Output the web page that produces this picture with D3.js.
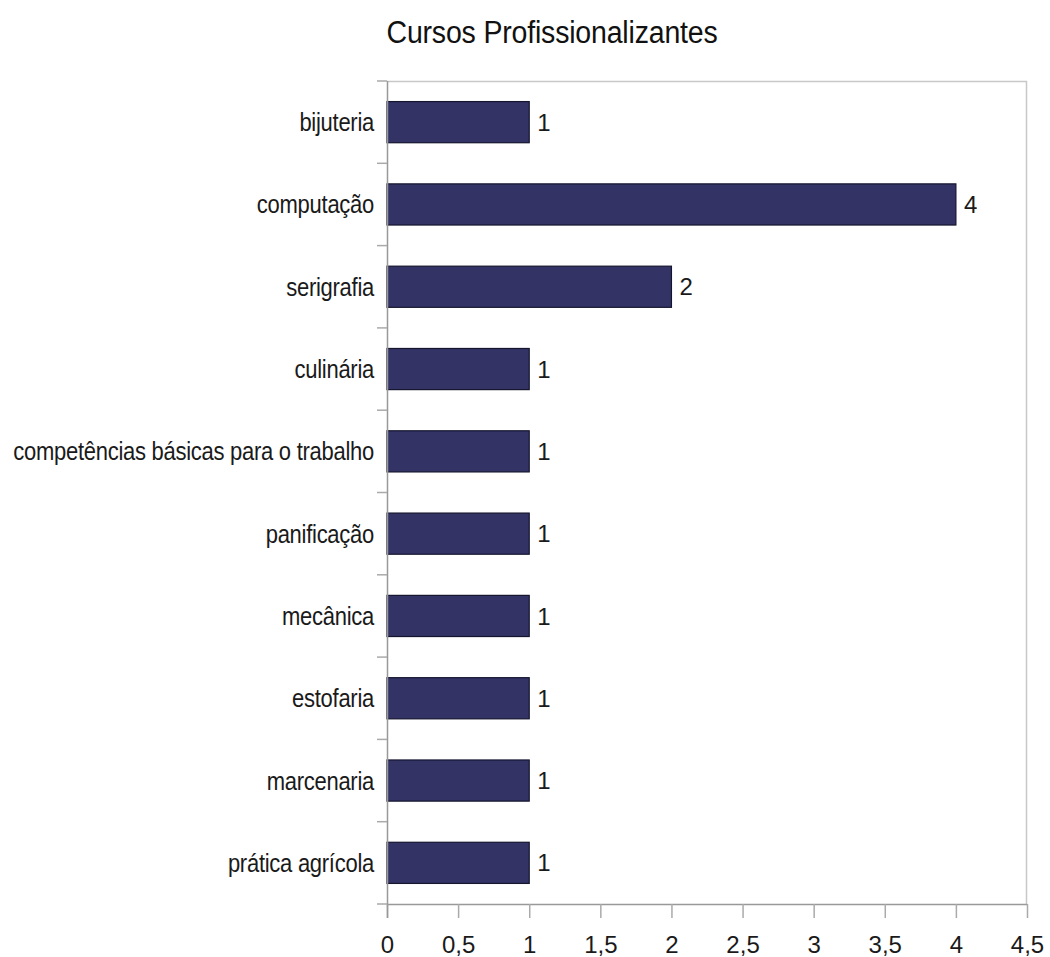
<!DOCTYPE html>
<html>
<head>
<meta charset="utf-8">
<script src="https://cdn.jsdelivr.net/npm/d3@7"></script>
<style>
  html, body { margin: 0; padding: 0; background: #fff; }
  svg { display: block; font-family: "Liberation Sans", Arial, sans-serif; }
</style>
</head>
<body>
<svg id="chart" width="1050" height="957"></svg>
<script>
const title = "Cursos Profissionalizantes";
const categories = [
  "bijuteria",
  "computação",
  "serigrafia",
  "culinária",
  "competências básicas para o trabalho",
  "panificação",
  "mecânica",
  "estofaria",
  "marcenaria",
  "prática agrícola"
];
const values = [1, 4, 2, 1, 1, 1, 1, 1, 1, 1];
const xTicks = [0, 0.5, 1, 1.5, 2, 2.5, 3, 3.5, 4, 4.5];

const svg = d3.select("#chart");
const margin = { left: 387, right: 23, top: 81, bottom: 53 };
const W = 1050, H = 957;
const innerW = W - margin.left - margin.right;
const innerH = H - margin.top - margin.bottom;

const x = d3.scaleLinear().domain([0, 4.5]).range([0, innerW]);
const y = d3.scaleBand().domain(categories).range([0, innerH]).paddingInner(0.5).paddingOuter(0.25);

const g = svg.append("g").attr("transform", `translate(${margin.left},${margin.top})`);

// plot frame: light top and right edges
g.append("path")
  .attr("d", `M0,0.5 H${innerW - 0.5} V${innerH}`)
  .attr("fill", "none")
  .attr("stroke", "#c8c8c8")
  .attr("stroke-width", 1.5);

// bars
g.selectAll("rect.bar")
  .data(values)
  .join("rect")
  .attr("class", "bar")
  .attr("x", 0)
  .attr("y", (d, i) => y(categories[i]))
  .attr("width", d => x(d))
  .attr("height", y.bandwidth())
  .attr("fill", "#333366")
  .attr("stroke", "#15152e")
  .attr("stroke-width", 1.2);

// value labels
g.selectAll("text.val")
  .data(values)
  .join("text")
  .attr("class", "val")
  .attr("x", d => x(d) + 8)
  .attr("y", (d, i) => y(categories[i]) + y.bandwidth() / 2)
  .attr("dy", "0.36em")
  .attr("font-size", 24)
  .attr("fill", "#1a1a1a")
  .text(d => d);

// bottom axis
const xAxis = d3.axisBottom(x)
  .tickValues(xTicks)
  .tickSize(14)
  .tickPadding(18)
  .tickFormat(d => String(d).replace(".", ","));
const xg = g.append("g").attr("transform", `translate(0,${innerH})`).call(xAxis);
xg.select(".domain").attr("stroke", "#999").attr("stroke-width", 1.5).attr("d", `M0,0.5H${innerW}`);
xg.selectAll(".tick line").attr("stroke", "#aaa").attr("stroke-width", 1.5);
xg.selectAll(".tick text").attr("font-size", 24).attr("fill", "#1a1a1a").attr("font-family", "Liberation Sans, Arial, sans-serif");

// left axis: line plus boundary ticks between categories
const boundaries = d3.range(categories.length + 1).map(i => i * innerH / categories.length);
g.append("line")
  .attr("x1", 0.5).attr("x2", 0.5)
  .attr("y1", 0).attr("y2", innerH + 14)
  .attr("stroke", "#999").attr("stroke-width", 1.5);
g.selectAll("line.ytick")
  .data(boundaries)
  .join("line")
  .attr("class", "ytick")
  .attr("x1", -10).attr("x2", 0)
  .attr("y1", d => d).attr("y2", d => d)
  .attr("stroke", "#aaa").attr("stroke-width", 1.5);

// category labels (narrow type, horizontally condensed)
g.selectAll("text.cat")
  .data(categories)
  .join("text")
  .attr("class", "cat")
  .attr("transform", d => `translate(-13,${y(d) + y.bandwidth() / 2}) scale(0.88,1)`)
  .attr("dy", "0.36em")
  .attr("text-anchor", "end")
  .attr("font-size", 25)
  .attr("letter-spacing", -0.3)
  .attr("fill", "#1a1a1a")
  .text(d => d);

// title
svg.append("text")
  .attr("transform", "translate(552,43) scale(0.92,1)")
  .attr("text-anchor", "middle")
  .attr("font-size", 31)
  .attr("letter-spacing", -0.2)
  .attr("fill", "#111")
  .text(title);
</script>
</body>
</html>
